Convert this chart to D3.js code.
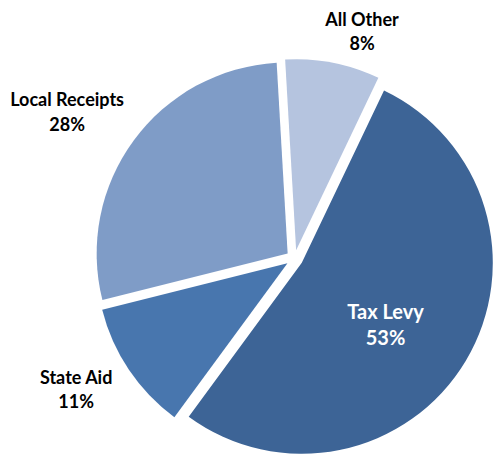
<!DOCTYPE html>
<html>
<head>
<meta charset="utf-8" />
<title></title>
<script src="https://cdn.jsdelivr.net/npm/d3@7/dist/d3.min.js"></script>
<style>
  body { margin: 0; background: #fff; }
  svg text { font-family: Lato, "Open Sans", sans-serif; font-weight: bold; }
</style>
</head>
<body>
<div id="chart"></div>
<script>
var width = 493,
    height = 455;

// data
var categories = ["Tax Levy", "State Aid", "Local Receipts", "All Other"];
var values = [53, 11, 28, 8];
var colors = ["#3d6496", "#4876ae", "#7f9cc7", "#b5c4df"];

// pie geometry
var cx = 294.5, cy = 258.5, radius = 191, explode = 8.5;
var startDeg = 25.5;

// label placement (distance from centre, angle shift in degrees, size)
var labelDist = [117, 258, 267, 231];
var labelShift = [8, 1.7, -4.7, 5.9];
var labelSize = [20, 18, 18, 18];
var labelGap = [13, 12, 12.5, 12];
var labelColor = ["#fff", "#000", "#000", "#000"];

var svg = d3.select("#chart").append("svg")
    .attr("width", width)
    .attr("height", height);

var g = svg.append("g").attr("transform", "translate(" + cx + "," + cy + ")");

var pie = d3.pie().sort(null)
    .startAngle(startDeg * Math.PI / 180)
    .endAngle(startDeg * Math.PI / 180 + 2 * Math.PI);

var arcs = pie(values);
var arc = d3.arc().innerRadius(0).outerRadius(radius);

g.selectAll("path")
    .data(arcs)
    .enter()
    .append("path")
    .attr("d", arc)
    .attr("fill", function(d, i){ return colors[i]; })
    .attr("transform", function(d){
        var a = (d.startAngle + d.endAngle) / 2;
        return "translate(" + (explode * Math.sin(a)) + "," + (-explode * Math.cos(a)) + ")";
    });

var labels = g.selectAll("text.lbl")
    .data(arcs)
    .enter()
    .append("text")
    .attr("class", "lbl")
    .attr("text-anchor", "middle")
    .style("font-size", function(d, i){ return labelSize[i] + "px"; })
    .attr("fill", function(d, i){ return labelColor[i]; })
    .attr("transform", function(d, i){
        var a = (d.startAngle + d.endAngle) / 2 + labelShift[i] * Math.PI / 180;
        var x = labelDist[i] * Math.sin(a), y = -labelDist[i] * Math.cos(a);
        return "translate(" + x + "," + y + ")";
    });

labels.append("tspan")
    .attr("x", 0)
    .attr("y", function(d, i){ return -labelGap[i]; })
    .text(function(d, i){ return categories[i]; });
labels.append("tspan")
    .attr("x", 0)
    .attr("y", function(d, i){ return labelGap[i]; })
    .text(function(d){ return d.data + "%"; });
</script>
</body>
</html>
